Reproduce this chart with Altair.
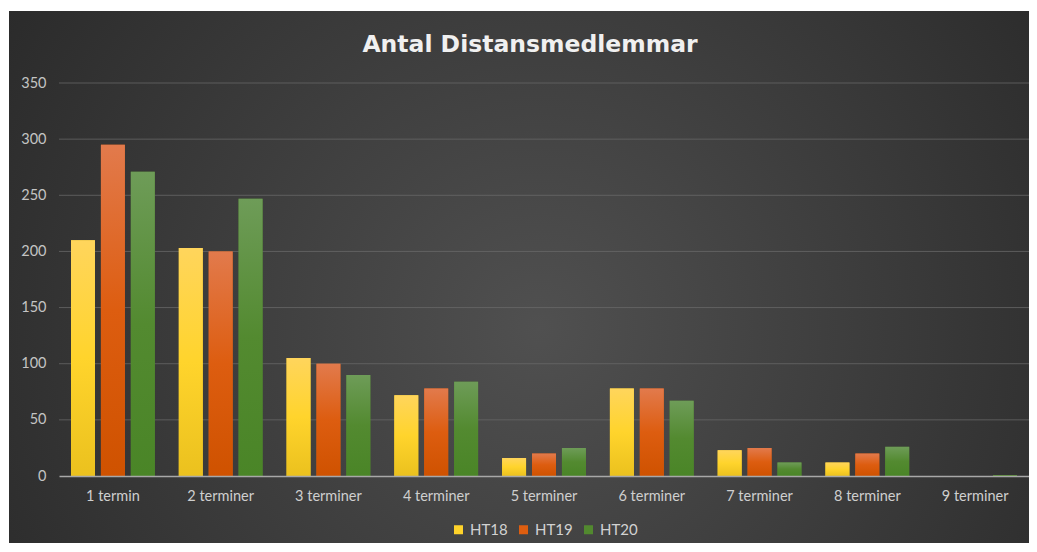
import altair as alt
import pandas as pd

categories = ["1 termin", "2 terminer", "3 terminer", "4 terminer", "5 terminer",
              "6 terminer", "7 terminer", "8 terminer", "9 terminer"]
series = ["HT18", "HT19", "HT20"]
ht18 = [210, 203, 105, 72, 16, 78, 23, 12, 0]
ht19 = [295, 200, 100, 78, 20, 78, 25, 20, 0]
ht20 = [271, 247, 90, 84, 25, 67, 12, 26, 1]
grid_values = [50, 100, 150, 200, 250, 300, 350]
y_ticks = [0, 50, 100, 150, 200, 250, 300, 350]
title_text = "Antal Distansmedlemmar"

solid_colors = ["#FFD32A", "#DE5E10", "#52892F"]

rows = []
for i, c in enumerate(categories):
    for s, vals in zip(series, [ht18, ht19, ht20]):
        rows.append({"kategori": c, "serie": s, "antal": vals[i]})
df = pd.DataFrame(rows)

W, H = 970, 393
PAD_L, PAD_T = 51, 75
CANVAS_W, CANVAS_H = 1021, 535
FONT = "Lato"


def lin(top, mid, bottom):
    return alt.LinearGradient(
        gradient="linear", x1=0, y1=0, x2=0, y2=1,
        stops=[alt.GradientStop(offset=0, color=top),
               alt.GradientStop(offset=0.5, color=mid),
               alt.GradientStop(offset=1, color=bottom)])


grads = {
    "HT18": lin("#FFD55C", "#FFD42C", "#EBC11E"),
    "HT19": lin("#E27A4C", "#DD5D10", "#CF5200"),
    "HT20": lin("#6E9C58", "#538A30", "#4A8527"),
}

x_enc = alt.X("kategori:N", sort=categories,
              scale=alt.Scale(paddingInner=0.1675, paddingOuter=0.08375),
              axis=alt.Axis(title=None, labelAngle=0, labelColor="#cfcfcf",
                            labelFontSize=14.5, labelFont=FONT, labelPadding=13,
                            domainColor="#a8a8a8", domainWidth=1.5, ticks=False,
                            grid=False, zindex=2))
xoff_enc = alt.XOffset("serie:N", sort=series,
                       scale=alt.Scale(domain=series, paddingInner=0.2, paddingOuter=0.1))
y_enc = alt.Y("antal:Q", scale=alt.Scale(domain=[0, 350], nice=False, zero=True),
              axis=alt.Axis(title=None, values=y_ticks, labelColor="#c4c4c4",
                            labelFontSize=14.5, labelFont=FONT, labelPadding=13,
                            domain=False, ticks=False, grid=False, zindex=2))

bg = alt.Chart(pd.DataFrame({"a": [0]})).mark_rect(
    clip=False,
    fill=alt.RadialGradient(
        gradient="radial", x1=0.52, y1=0.55, x2=0.52, y2=0.55, r1=0, r2=0.72,
        stops=[alt.GradientStop(offset=0, color="#505050"),
               alt.GradientStop(offset=1, color="#242424")])
).encode(x=alt.value(-(PAD_L - 1)), x2=alt.value(CANVAS_W - PAD_L),
         y=alt.value(-(PAD_T - 3)), y2=alt.value(CANVAS_H - PAD_T))

grid = alt.Chart(pd.DataFrame({"v": grid_values})).mark_rule(
    color="#6a6a6a", strokeWidth=1, opacity=0.75
).encode(y=alt.Y("v:Q"), x=alt.value(0), x2=alt.value(W))

base = alt.Chart(df).mark_bar().encode(
    x=x_enc, xOffset=xoff_enc, y=y_enc,
    color=alt.Color("serie:N", sort=series,
                    scale=alt.Scale(domain=series, range=solid_colors),
                    legend=alt.Legend(title=None, orient="none", direction="horizontal",
                                      legendX=392, legendY=439, symbolType="square",
                                      symbolSize=81, symbolStrokeWidth=0,
                                      labelColor="#d2d2d2", labelFontSize=15,
                                      labelFont=FONT, labelOffset=4,
                                      columnPadding=8, zindex=2)))

layers = [bg, grid, base]
for s in series:
    layers.append(
        alt.Chart(df).transform_filter(alt.datum.serie == s)
        .mark_bar(fill=grads[s])
        .encode(x=x_enc, xOffset=xoff_enc, y=y_enc)
    )

title = alt.Chart(pd.DataFrame({"t": [title_text]})).mark_text(
    font="DejaVu Sans", fontSize=23.5, fontWeight="bold", color="#f0f0f0",
    align="center", baseline="alphabetic", clip=False
).encode(text="t:N", x=alt.value(471), y=alt.value(-31))
layers.append(title)

chart = alt.layer(*layers).properties(
    width=W, height=H,
    autosize=alt.AutoSizeParams(type="none"),
    padding={"left": PAD_L, "top": PAD_T, "right": CANVAS_W - PAD_L - W,
             "bottom": CANVAS_H - PAD_T - H},
    background="#ffffff",
).configure_view(strokeWidth=0)

chart.save("out.html", embed_options={"renderer": "svg", "actions": False})
